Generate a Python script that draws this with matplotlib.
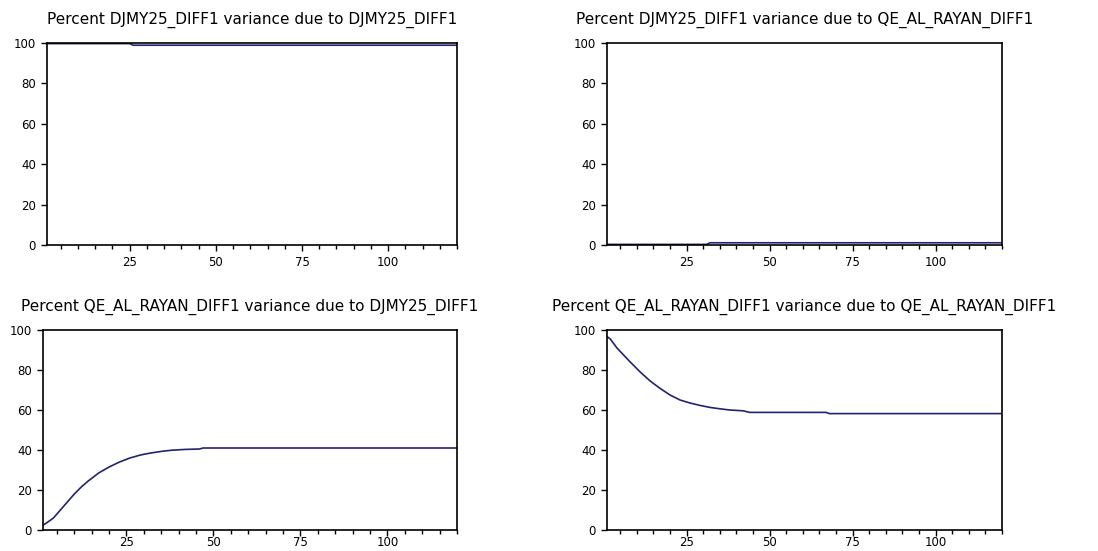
import matplotlib.pyplot as plt
from matplotlib.ticker import MultipleLocator

plt.rcParams['font.family'] = ['DejaVu Sans']

# variance decomposition values (period, percent)
dj_dj_x = [1, 25, 26, 120]
dj_dj_y = [99.7, 99.7, 98.9, 98.9]

dj_qe_x = [1, 31, 32, 120]
dj_qe_y = [0.3, 0.3, 1.1, 1.1]

qe_dj_x = [1, 2, 4, 6, 8, 10, 12, 14, 17, 20, 23, 26, 29, 32, 35, 38, 42, 46, 47, 120]
qe_dj_y = [2.5, 3.5, 6.0, 10.0, 14.0, 18.0, 21.5, 24.5, 28.5, 31.5, 34.0, 36.0, 37.5, 38.5, 39.3, 39.9, 40.3, 40.5, 41.0, 41.0]

qe_qe_x = [1, 2, 4, 6, 8, 11, 14, 17, 20, 23, 26, 29, 32, 35, 38, 42, 44, 67, 68, 120]
qe_qe_y = [96.7, 95.5, 91.0, 87.5, 84.0, 79.0, 74.5, 70.8, 67.5, 65.0, 63.5, 62.3, 61.3, 60.6, 60.0, 59.6, 58.8, 58.8, 58.2, 58.2]

titles = [
    "Percent DJMY25_DIFF1 variance due to DJMY25_DIFF1",
    "Percent DJMY25_DIFF1 variance due to QE_AL_RAYAN_DIFF1",
    "Percent QE_AL_RAYAN_DIFF1 variance due to DJMY25_DIFF1",
    "Percent QE_AL_RAYAN_DIFF1 variance due to QE_AL_RAYAN_DIFF1",
]
series = [(dj_dj_x, dj_dj_y), (dj_qe_x, dj_qe_y), (qe_dj_x, qe_dj_y), (qe_qe_x, qe_qe_y)]

# axes boxes in figure pixels: left, top, right, bottom
W, H = 1098, 551
boxes = [(47, 43, 457, 245), (607, 43, 1002, 245),
         (43, 330, 457, 530), (607, 330, 1002, 530)]

fig = plt.figure(figsize=(W / 100, H / 100), dpi=100)
line_color = '#23236e'

for i, ((l, t, r, b), title, (xs, ys)) in enumerate(zip(boxes, titles, series)):
    ax = fig.add_axes([l / W, 1 - b / H, (r - l) / W, (b - t) / H])
    ax.plot(xs, ys, color=line_color, lw=1.2)
    ax.set_xlim(1, 120)
    ax.set_ylim(0, 100)
    ax.set_xticks([25, 50, 75, 100])
    ax.xaxis.set_minor_locator(MultipleLocator(5))
    ax.set_yticks([0, 20, 40, 60, 80, 100])
    ax.tick_params(axis='y', which='major', labelsize=8.5, length=4, width=1, direction='out', pad=4)
    # bottom row sits right at the image edge, so keep its labels tight
    xpad = 4 if i < 2 else 0.5
    ax.tick_params(axis='x', which='major', labelsize=8.5, length=4, width=1, direction='out', pad=xpad)
    ax.tick_params(axis='x', which='minor', length=3, width=1, direction='out')
    for sp in ax.spines.values():
        sp.set_linewidth(1.2)
        sp.set_color('black')
    ax.set_title(title, fontsize=11, pad=14)

fig.savefig('out.png', dpi=100)
